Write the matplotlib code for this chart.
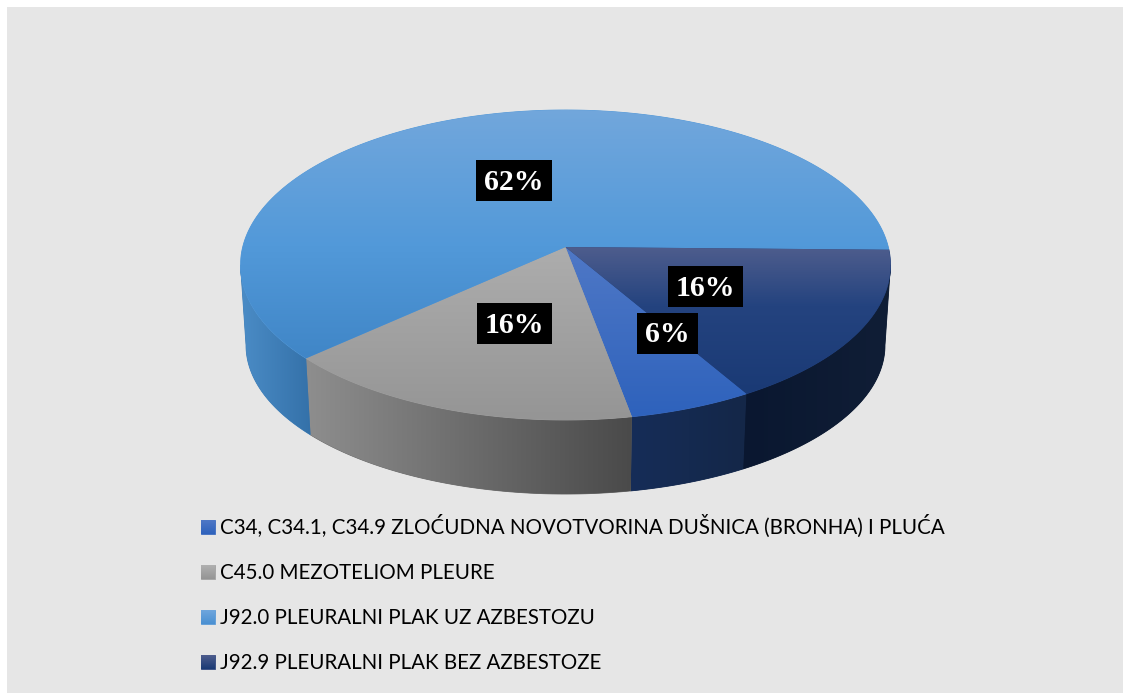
import matplotlib
matplotlib.use("Agg")
import matplotlib.pyplot as plt
import numpy as np
from matplotlib.colors import LinearSegmentedColormap
from matplotlib.patches import Polygon, Rectangle

labels = [
    "C34, C34.1, C34.9 ZLOĆUDNA NOVOTVORINA DUŠNICA (BRONHA) I PLUĆA",
    "C45.0 MEZOTELIOM PLEURE",
    "J92.0 PLEURALNI PLAK UZ AZBESTOZU",
    "J92.9 PLEURALNI PLAK BEZ AZBESTOZE",
]
# unrounded shares, printed as 6/16/62/16
values = [5.5, 16.2, 62.0, 16.3]

# top face gradients, top to bottom
top_colors = [
    [(0, "#4f78c6"), (1, "#2e62bc")],
    [(0, "#adadad"), (1, "#959595")],
    [(0, "#72a7dc"), (0.55, "#5299d9"), (1, "#4086c7")],
    [(0, "#4e5d8d"), (0.4, "#24437f"), (1, "#1a3a75")],
]
# side wall gradients, left to right
side_colors = [
    [(0, "#162d58"), (1, "#142748")],
    [(0, "#8e8e8e"), (1, "#4a4a4a")],
    [(0, "#4b8cc6"), (1, "#3471a9")],
    [(0, "#0a1730"), (1, "#101e36")],
]
legend_colors = [
    [(0, "#4f78c6"), (1, "#2e62bc")],
    [(0, "#b0b0b0"), (1, "#959595")],
    [(0, "#6fa6dd"), (1, "#4a90d2")],
    [(0, "#4e5d8d"), (1, "#1a3a75")],
]

start = -59.7
cx, top_apex, bot_apex = 565.5, 247.0, 328.0
rx, ry, k = 322.8, 152.9, 0.116
bot_scale_x, bot_scale_y = 0.983, 0.96
edge_right, edge_left = -6.6, -173.4

fig = plt.figure(figsize=(11.23, 6.93), dpi=100, facecolor="white")
ax = fig.add_axes([0, 0, 1, 1])
ax.set_xlim(0, 1123)
ax.set_ylim(693, 0)
ax.axis("off")
ax.add_patch(Rectangle((7, 7), 1116, 686, fc="#e6e6e6", ec="none", zorder=0))


def top_point(deg):
    t = np.radians(deg)
    d = 1 + k * np.sin(t)
    return np.column_stack([cx + rx * np.cos(t) / d, top_apex - ry * np.sin(t) / d])


def bot_point(deg):
    t = np.radians(deg)
    d = 1 + k * np.sin(t)
    return np.column_stack([cx + bot_scale_x * rx * np.cos(t) / d,
                            bot_apex - bot_scale_y * ry * np.sin(t) / d])


def grad_fill(verts, stops, vertical, z):
    cmap = LinearSegmentedColormap.from_list("g", stops)
    x0, y0 = verts.min(axis=0)
    x1, y1 = verts.max(axis=0)
    g = np.linspace(0, 1, 256)
    g = g.reshape(-1, 1) if vertical else g.reshape(1, -1)
    # solid copy underneath gives the soft outer edge
    ax.add_patch(Polygon(verts, fc=cmap(0.5), ec=cmap(0.5), lw=0.6, zorder=z))
    im = ax.imshow(g, extent=(x0, x1, y1, y0), aspect="auto", cmap=cmap, zorder=z + 0.1)
    im.set_clip_path(Polygon(verts, transform=ax.transData))


angle = start
spans = []
for v in values:
    spans.append((angle, angle - v * 3.6))
    angle -= v * 3.6

# walls first, only the part of each slice that faces the viewer
for (a0, a1), c in zip(spans, side_colors):
    for shift in (0, 360):
        hi = min(a0 + shift, edge_right)
        lo = max(a1 + shift, edge_left)
        if lo < hi:
            th = np.linspace(lo, hi, 80)
            poly = np.vstack([top_point(th), bot_point(th[::-1])])
            grad_fill(poly, c, False, 1)

# top faces
for (a0, a1), c in zip(spans, top_colors):
    th = np.linspace(a0, a1, 200)
    poly = np.vstack([[[cx, top_apex]], top_point(th)])
    grad_fill(poly, c, True, 2)

# percent labels
box_centers = [(667.5, 333), (514.5, 323.5), (514, 180.5), (705.5, 286)]
box_widths = [61, 75, 76, 75]
for v, (bx, by), w in zip(values, box_centers, box_widths):
    ax.add_patch(Rectangle((bx - w / 2, by - 20.5), w, 41, fc="black", ec="none", zorder=4))
    ax.text(bx, by + 2, f"{v:.0f}%", color="white", fontsize=21.5, fontweight="bold",
            family="Liberation Serif", ha="center", va="center", zorder=5)

# legend
legend_y = [527, 572, 617, 662]
for name, c, y in zip(labels, legend_colors, legend_y):
    sq = np.array([[201, y - 7], [215, y - 7], [215, y + 7], [201, y + 7]], dtype=float)
    grad_fill(sq, c, True, 3)
    ax.text(220, y + 7, name, fontsize=14.8, family="Lato", color="#000000",
            ha="left", va="baseline", zorder=5)

ax.set_xlim(0, 1123)
ax.set_ylim(693, 0)
fig.savefig("out.png", dpi=100)
